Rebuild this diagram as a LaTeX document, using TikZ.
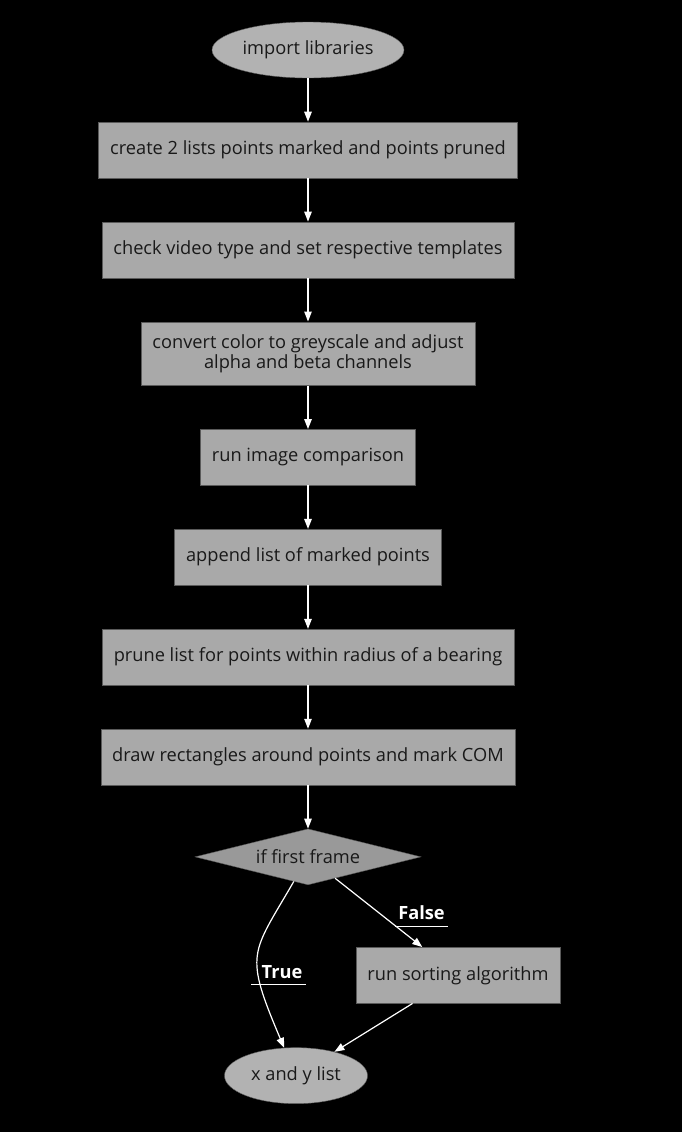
\documentclass[tikz,border=0pt]{standalone}
\usepackage{fontspec}
\setmainfont{Open Sans}
\usetikzlibrary{arrows.meta, positioning, shapes.geometric}

\definecolor{boxgray}{RGB}{169,169,169}
\definecolor{ovalgray}{RGB}{178,178,178}
\definecolor{diagray}{RGB}{153,153,153}
\definecolor{edgegray}{RGB}{90,90,90}

\begin{document}
\begin{tikzpicture}[
    x=1bp, y=1bp,
    node distance=43.5bp,
    every node/.style={font=\fontsize{18.3}{20.5}\selectfont, text=black!90},
    ovalnode/.style={
        ellipse,
        draw=edgegray,
        fill=ovalgray,
        minimum height=56bp,
        inner sep=0pt
    },
    rectnode/.style={
        rectangle,
        draw=edgegray,
        fill=boxgray,
        minimum height=56bp,
        inner xsep=11.5bp,
        inner ysep=12.5bp,
        align=center
    },
    diamondnode/.style={
        diamond,
        draw=edgegray,
        fill=diagray,
        aspect=4,
        minimum width=226bp,
        minimum height=56bp,
        inner sep=0pt
    },
    flow/.style={-{Triangle[length=10bp, width=7.5bp]}, white, line width=1.2bp},
    edgelabel/.style={font=\bfseries\fontsize{18.3}{20}\selectfont, text=white,
        inner xsep=3bp, inner ysep=6bp},
    labelline/.style={white, line width=1bp}
]

\fill[black] (0,0) rectangle (682,-1132);
\useasboundingbox (0,0) rectangle (682,-1132);

\node[ovalnode, minimum width=192bp] (import) at (308,-50) {import libraries};
\node[rectnode, below=of import] (lists)
    {create 2 lists points marked and points pruned};
\node[rectnode, below=of lists] (video)
    {check video type and set respective templates};
\node[rectnode, below=of video] (grey)
    {convert color to greyscale and adjust\\alpha and beta channels};
\node[rectnode, below=of grey] (compare) {run image comparison};
\node[rectnode, below=of compare] (append) {append list of marked points};
\node[rectnode, below=of append] (prune)
    {prune list for points within radius of a bearing};
\node[rectnode, below=of prune] (rects)
    {draw rectangles around points and mark COM};
\node[diamondnode, below=of rects] (first) {if first frame};
\node[rectnode, below=62bp of first, xshift=150bp] (sort) {run sorting algorithm};
\node[ovalnode, minimum width=143bp, below=44bp of sort, xshift=-162bp]
    (xylist) {x and y list};

\draw[flow] (import) -- (lists);
\draw[flow] (lists) -- (video);
\draw[flow] (video) -- (grey);
\draw[flow] (grey) -- (compare);
\draw[flow] (compare) -- (append);
\draw[flow] (append) -- (prune);
\draw[flow] (prune) -- (rects);
\draw[flow] (rects) -- (first);
\draw[flow] (first) to[out=-120, in=113, out looseness=1.3, in looseness=1.6] (xylist);
\draw[flow] (first) -- (sort);
\draw[flow] (sort) -- (xylist);

% decorated edge labels
\node[edgelabel] (truelbl) at (282,-972) {True};
\draw[labelline] ([xshift=-7bp]truelbl.south west) -- (truelbl.south east);
\node[edgelabel] (falselbl) at (421.5,-913) {False};
\draw[labelline] (falselbl.south west) -- (falselbl.south east);

\end{tikzpicture}
\end{document}
